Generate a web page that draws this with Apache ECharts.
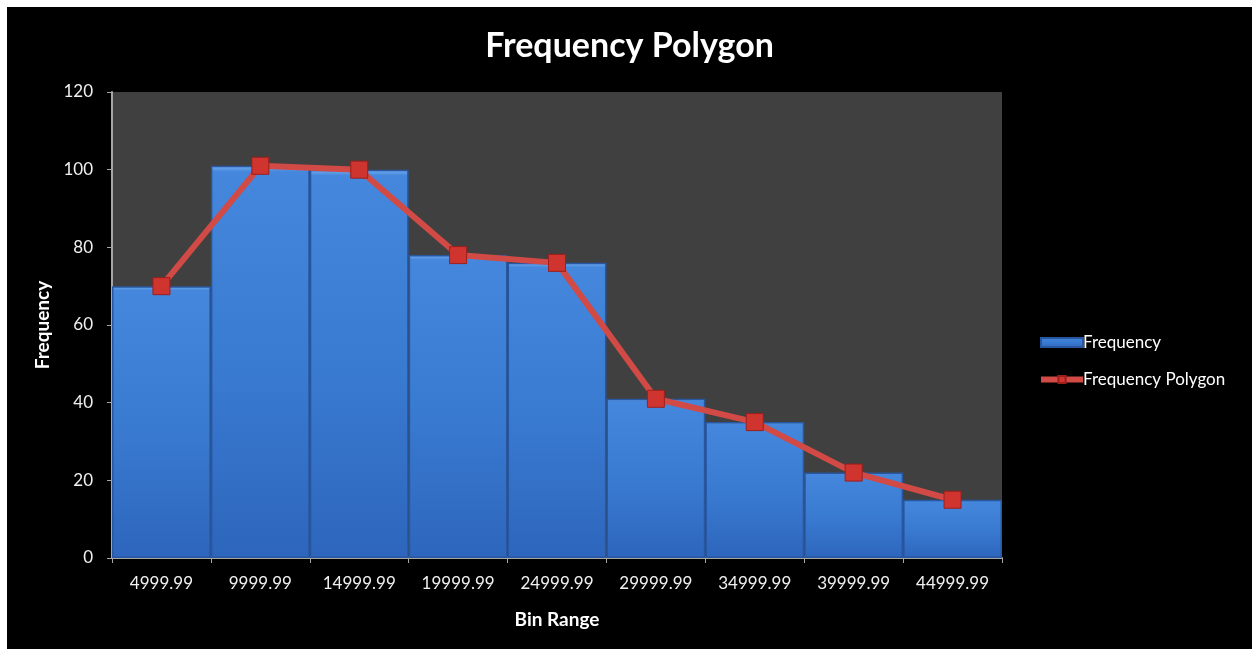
<!DOCTYPE html>
<html><head><meta charset="utf-8">
<script src="https://cdn.jsdelivr.net/npm/echarts@6/dist/echarts.min.js"></script>
<style>
html,body{margin:0;padding:0;background:#ffffff;width:1252px;height:649px;overflow:hidden}
#c{position:absolute;left:7px;top:7px;width:1245px;height:642px;background:#000}
</style></head>
<body><div id="c"></div>
<script>
const categories = ['4999.99','9999.99','14999.99','19999.99','24999.99','29999.99','34999.99','39999.99','44999.99'];
const frequency = [70, 101, 100, 78, 76, 41, 35, 22, 15];
const polygon = [70, 101, 100, 78, 76, 41, 35, 22, 15];
const yTicks = [0, 20, 40, 60, 80, 100, 120];

const chart = echarts.init(document.getElementById('c'));
const font = 'Lato, "Open Sans", sans-serif';
chart.setOption({
  backgroundColor: '#000',
  title: {text: 'Frequency Polygon', left: 'center', top: 17,
    textStyle: {color: '#fff', fontSize: 34, fontWeight: 'bold', fontFamily: font}},
  legend: {orient: 'vertical', left: 1026, top: 322, itemGap: 20, itemWidth: 42, itemHeight: 9,
    textStyle: {color: '#fff', fontSize: 17, fontFamily: font, padding: [0,0,0,-5]},
    data: [{name: 'Frequency', icon: 'rect'},
           {name: 'Frequency Polygon', lineStyle: {width: 6, color: '#d24a45'}, itemStyle: {color: '#d0342f'}}]},
  grid: {left: 105, top: 85, right: 250, bottom: 91, show: true, backgroundColor: '#404040', borderWidth: 0},
  xAxis: {type: 'category', data: categories, name: 'Bin Range', nameLocation: 'middle', nameGap: 52,
    nameTextStyle: {color: '#fff', fontSize: 19, fontWeight: 'bold', fontFamily: font},
    axisLine: {lineStyle: {color: '#a6a6a6', width: 2}},
    axisTick: {show: true, length: 5, interval: 0, lineStyle: {color: '#a6a6a6'}},
    axisLabel: {color: '#f0f0f0', fontSize: 17, margin: 17, interval: 0, hideOverlap: false, fontFamily: font}},
  yAxis: {type: 'value', min: 0, max: 120, interval: 20, name: 'Frequency', nameLocation: 'middle', nameGap: 60,
    nameTextStyle: {color: '#fff', fontSize: 19, fontWeight: 'bold', fontFamily: font},
    axisLine: {show: true, lineStyle: {color: '#a6a6a6', width: 2}},
    axisTick: {show: true, length: 5, lineStyle: {color: '#a6a6a6'}},
    splitLine: {show: false},
    axisLabel: {color: '#f0f0f0', fontSize: 17, margin: 19, fontFamily: font,
      formatter: v => yTicks.includes(v) ? String(v) : ''}},
  series: [
    {name: 'Frequency', type: 'bar', data: frequency, barCategoryGap: '0%',
      itemStyle: {color: new echarts.graphic.LinearGradient(0,0,0,1,[
        {offset: 0, color: '#78b0f2'}, {offset: 0.015, color: '#4487dc'}, {offset: 0.5, color: '#3a7bd2'}, {offset: 1, color: '#2d66bc'}]),
        borderColor: '#2857a0', borderWidth: 1.5}},
    {name: 'Frequency Polygon', type: 'line', data: polygon, symbol: 'rect', symbolSize: 17, z: 5,
      lineStyle: {color: '#d24a45', width: 6},
      itemStyle: {color: '#d0342f', borderColor: '#9c1f1c', borderWidth: 1}}
  ]
});
</script></body></html>
